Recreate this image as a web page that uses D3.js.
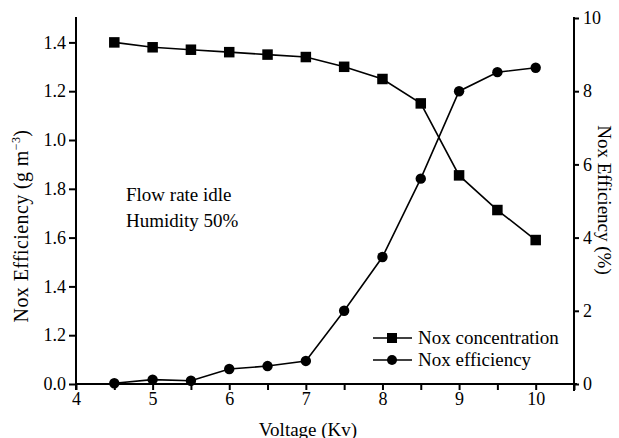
<!DOCTYPE html>
<html><head><meta charset="utf-8">
<script src="https://cdn.jsdelivr.net/npm/d3@7"></script>
<style>
body{margin:0;background:#fff;}
svg{display:block;font-family:"Liberation Serif","Times New Roman",serif;}
</style></head>
<body><svg id="c" width="619" height="438"></svg>
<script>
const voltage = [4.5, 5, 5.5, 6, 6.5, 7, 7.5, 8, 8.5, 9, 9.5, 10];
const concentration = [1.40, 1.38, 1.37, 1.36, 1.35, 1.34, 1.30, 1.25, 1.15, 0.855, 0.713, 0.59];
const efficiency = [0.02, 0.12, 0.09, 0.41, 0.49, 0.63, 2.0, 3.47, 5.61, 8.0, 8.52, 8.64];
const xTicks = [4, 4.5, 5, 5.5, 6, 6.5, 7, 7.5, 8, 8.5, 9, 9.5, 10, 10.5];
const xTickLabels = ["4", "", "5", "", "6", "", "7", "", "8", "", "9", "", "10", ""];
const leftTicks = [0, 0.2, 0.4, 0.6, 0.8, 1.0, 1.2, 1.4];
const leftTickLabels = ["0.0", "1.2", "1.4", "1.6", "1.8", "1.0", "1.2", "1.4"];
const rightTicks = [0, 2, 4, 6, 8, 10];
const legendLabels = ["Nox concentration", "Nox efficiency"];
const noteLines = ["Flow rate idle", "Humidity 50%"];

const svg = d3.select("#c");
const L = 76, R = 574, T = 18, B = 384;
const x = d3.scaleLinear().domain([4, 10.5]).range([L, R]);
const yL = d3.scaleLinear().domain([0, 1.5]).range([B, T]);
const yR = d3.scaleLinear().domain([0, 10]).range([B, T]);
const fs = 18;

const xa = svg.append("g").attr("transform", `translate(0,${B})`)
  .call(d3.axisBottom(x).tickValues(xTicks).tickSize(6).tickPadding(2)
    .tickFormat((d, i) => xTickLabels[i]));
const la = svg.append("g").attr("transform", `translate(${L},0)`)
  .call(d3.axisLeft(yL).tickValues(leftTicks).tickSize(7).tickPadding(3)
    .tickFormat((d, i) => leftTickLabels[i]));
const ra = svg.append("g").attr("transform", `translate(${R},0)`)
  .call(d3.axisRight(yR).tickValues(rightTicks).tickSize(5).tickPadding(3)
    .tickFormat(d3.format("d")));
[xa, la, ra].forEach(g => {
  g.select(".domain").attr("stroke", "#000").attr("stroke-width", 2);
  g.selectAll(".tick line").attr("stroke", "#000").attr("stroke-width", 2);
  g.selectAll(".tick text").attr("fill", "#000").style("font-family", "Liberation Serif").style("font-size", fs + "px");
});
la.select(".domain").attr("d", `M0,${T - 1}V${B + 6}`);
xa.select(".domain").attr("d", `M${L},0H${R + 3}`);
ra.select(".domain").attr("d", `M0,${T - 1}V${B + 7}`);
ra.selectAll(".tick text").attr("dx", 1);

const lineC = d3.line().x((d, i) => x(voltage[i])).y(d => yL(d));
const lineE = d3.line().x((d, i) => x(voltage[i])).y(d => yR(d));
svg.append("path").datum(concentration).attr("d", lineC).attr("fill", "none").attr("stroke", "#000").attr("stroke-width", 1.6);
svg.append("path").datum(efficiency).attr("d", lineE).attr("fill", "none").attr("stroke", "#000").attr("stroke-width", 1.6);
const sq = 10.5;
svg.append("g").selectAll("rect").data(concentration).join("rect")
  .attr("x", (d, i) => x(voltage[i]) - sq / 2).attr("y", d => yL(d) - sq / 2)
  .attr("width", sq).attr("height", sq).attr("fill", "#000");
svg.append("g").selectAll("circle").data(efficiency).join("circle")
  .attr("cx", (d, i) => x(voltage[i])).attr("cy", d => yR(d)).attr("r", 5.2).attr("fill", "#000");

svg.append("text").attr("x", 308).attr("y", 436).attr("text-anchor", "middle")
  .style("font-size", "19px").text("Voltage (Kv)");
const lt = svg.append("text").attr("transform", "translate(28,226) rotate(-90)").attr("text-anchor", "middle")
  .style("font-size", "20px").style("letter-spacing", "0.4px");
lt.append("tspan").text("Nox Efficiency (g m");
lt.append("tspan").attr("dy", -8).style("font-size", "12px").text("−3");
lt.append("tspan").attr("dy", 8).text(")");
svg.append("text").attr("transform", "translate(598,200) rotate(90)").attr("text-anchor", "middle")
  .style("font-size", "19px").text("Nox Efficiency (%)");

svg.append("g").selectAll("text").data(noteLines).join("text")
  .attr("x", 126).attr("y", (d, i) => 201 + i * 26).style("font-size", "19px").text(d => d);

const lg = svg.append("g");
legendLabels.forEach((t, i) => {
  const cy = 338 + i * 22;
  lg.append("line").attr("x1", 373).attr("x2", 412).attr("y1", cy).attr("y2", cy).attr("stroke", "#000").attr("stroke-width", 1.6);
  if (i === 0) lg.append("rect").attr("x", 392 - 5).attr("y", cy - 5).attr("width", 10).attr("height", 10).attr("fill", "#000");
  else lg.append("circle").attr("cx", 392).attr("cy", cy).attr("r", 5).attr("fill", "#000");
  lg.append("text").attr("x", 418).attr("y", cy + 6).style("font-size", "19px").text(t);
});
</script></body></html>
